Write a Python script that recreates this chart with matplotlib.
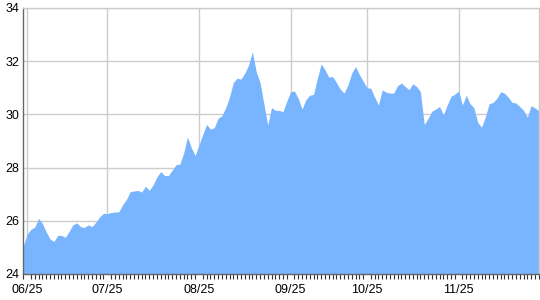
import matplotlib
matplotlib.use('Agg')
import matplotlib.pyplot as plt
import numpy as np

plt.rcParams['font.family'] = ['Liberation Sans', 'DejaVu Sans']

# daily closing values, one per trading day
values = [
    25.05, 25.5, 25.68, 25.76, 26.09, 25.9, 25.58, 25.32, 25.22, 25.45,
    25.45, 25.38, 25.6, 25.85, 25.92, 25.78, 25.75, 25.85, 25.78, 25.95,
    26.15, 26.28, 26.27, 26.31, 26.33, 26.34, 26.6, 26.8, 27.1, 27.12,
    27.14, 27.08, 27.3, 27.15, 27.35, 27.65, 27.85, 27.7, 27.7, 27.9,
    28.11, 28.13, 28.55, 29.15, 28.75, 28.45, 28.85, 29.25, 29.62, 29.45,
    29.5, 29.85, 29.95, 30.25, 30.65, 31.2, 31.36, 31.33, 31.55, 31.86,
    32.35, 31.6, 31.2, 30.4, 29.6, 30.26, 30.15, 30.15, 30.1, 30.5,
    30.85, 30.88, 30.6, 30.2, 30.55, 30.72, 30.75, 31.35, 31.9, 31.68,
    31.4, 31.42, 31.2, 30.95, 30.8, 31.1, 31.55, 31.8, 31.5, 31.25,
    31.0, 30.98, 30.65, 30.35, 30.92, 30.84, 30.8, 30.8, 31.08, 31.18,
    31.05, 30.93, 31.15, 31.05, 30.85, 29.62, 29.85, 30.12, 30.2, 30.3,
    29.98, 30.35, 30.68, 30.76, 30.88, 30.35, 30.72, 30.4, 30.25, 29.7,
    29.52, 29.9, 30.4, 30.45, 30.6, 30.85, 30.8, 30.65, 30.45, 30.43,
    30.3, 30.15, 29.9, 30.33, 30.24, 30.14,
]
label_idx = [1, 22, 46, 70, 90, 114]
labels = ['06/25', '07/25', '08/25', '09/25', '10/25', '11/25']
yticks = [24, 26, 28, 30, 32, 34]

x = np.arange(len(values))

fig = plt.figure(figsize=(5.4, 3.0), dpi=100)
ax = fig.add_axes([23.3 / 540, 26 / 300, 515.5 / 540, 266 / 300])

ax.fill_between(x, values, 24, color='#79b4fe', lw=0, zorder=3)

ax.set_xlim(0, len(values) - 1)
ax.set_ylim(24, 34)

ax.set_yticks(yticks)
ax.set_yticklabels([str(t) for t in yticks])
ax.set_xticks(label_idx)
ax.set_xticklabels(labels)
ax.set_xticks(x, minor=True)

ax.grid(True, which='major', color='#cccccc', lw=1, zorder=1)
ax.tick_params(axis='y', length=0, pad=3, labelsize=9, colors='black')
ax.tick_params(axis='x', which='major', length=0, pad=7, labelsize=9, colors='black')
ax.tick_params(axis='x', which='minor', length=3.5, width=0.8, color='#333333', direction='out')

ax.spines['left'].set_color('#666666')
ax.spines['bottom'].set_color('#666666')
ax.spines['top'].set_color('#cccccc')
ax.spines['right'].set_color('#cccccc')
for s in ax.spines.values():
    s.set_linewidth(1)
    s.set_zorder(4)

fig.savefig('out.png', dpi=100)
